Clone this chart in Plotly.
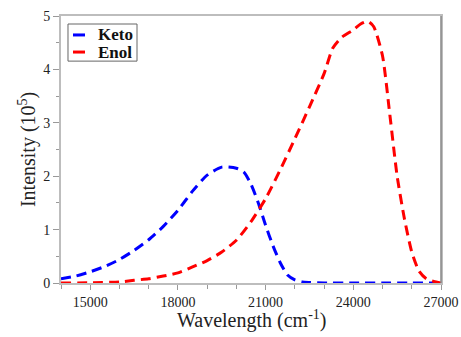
import plotly.graph_objects as go

# Data
keto_x = [14000, 14500, 15000, 15500, 16000, 16500, 17000, 17500, 18000, 18500,
          19000, 19500, 20000, 20250, 20500, 20750, 21000, 21250, 21500, 21750,
          22000, 22250, 22500, 23000, 24000, 25000, 26000, 27000]
keto_y = [0.08, 0.13, 0.21, 0.31, 0.44, 0.61, 0.81, 1.06, 1.36, 1.72,
          2.02, 2.17, 2.15, 2.08, 1.85, 1.50, 1.08, 0.70, 0.38, 0.15,
          0.06, 0.02, 0.01, 0.0, 0.0, 0.0, 0.0, 0.0]

enol_x = [14000, 15000, 16000, 16500, 17000, 17500, 18000, 18500, 19000, 19500,
          20000, 20500, 21000, 21500, 22000, 22500, 23000, 23300, 23600, 24000,
          24250, 24500, 24700, 25000, 25250, 25500, 25750, 26000, 26250, 26500,
          26750, 27000]
enol_y = [0.0, 0.005, 0.02, 0.05, 0.08, 0.13, 0.19, 0.30, 0.42, 0.58,
          0.80, 1.15, 1.58, 2.12, 2.70, 3.30, 3.92, 4.40, 4.60, 4.74,
          4.85, 4.90, 4.80, 4.25, 3.15, 2.00, 1.20, 0.58, 0.22, 0.08,
          0.03, 0.0]

series_names = ["Keto", "Enol"]
x_ticks = [15000, 18000, 21000, 24000, 27000]
y_ticks = [0, 1, 2, 3, 4, 5]

x_title = "Wavelength (cm<sup>-1</sup>)"
y_title = "Intensity (10<sup>5</sup>)"

BLUE = "#0000ff"
RED = "#ff0000"
AXIS = "#bdbdbd"
FONT = "Liberation Serif"
colors = [BLUE, RED]

fig = go.Figure()
for name, xs, ys, c in zip(series_names, [keto_x, enol_x], [keto_y, enol_y], colors):
    fig.add_trace(go.Scatter(x=xs, y=ys, mode="lines", name=name, showlegend=False,
                             line=dict(color=c, width=3, dash="10px,6px",
                                       shape="spline", smoothing=0.6)))

# compact boxed legend like the reference (paper coordinates)
shapes = [
    dict(type="rect", xref="paper", yref="paper", x0=0.0184, x1=0.2, y0=0.831, y1=0.970,
         line=dict(color="#666", width=1), fillcolor="white", layer="above"),
]
annotations = []
for i, (name, c) in enumerate(zip(series_names, colors)):
    yy = 0.929 - i * 0.064
    shapes.append(dict(type="line", xref="paper", yref="paper", x0=0.0316, x1=0.0632,
                       y0=yy, y1=yy, line=dict(color=c, width=3, dash="solid"), layer="above"))
    annotations.append(dict(text="<b>%s</b>" % name, xref="paper", yref="paper",
                            x=0.093, y=yy, xanchor="left", yanchor="middle", showarrow=False,
                            font=dict(size=17, family=FONT, color="#111")))
# darker right frame edge, as in the reference
shapes.append(dict(type="line", xref="paper", yref="paper", x0=1, x1=1, y0=0, y1=1,
                   line=dict(color="#888", width=1.5)))

annotations += [
    dict(text=x_title, xref="paper", yref="paper", x=0.5, y=-0.135,
         xanchor="center", yanchor="middle", showarrow=False,
         font=dict(size=20, family=FONT, color="#222")),
    dict(text=y_title, xref="paper", yref="paper", x=-0.088, y=0.5,
         xanchor="center", yanchor="middle", showarrow=False, textangle=-90,
         font=dict(size=20, family=FONT, color="#222")),
]

fig.update_layout(
    width=461, height=337,
    margin=dict(l=61, r=20, t=16, b=54, autoexpand=False),
    paper_bgcolor="white", plot_bgcolor="white",
    font=dict(family=FONT, color="#222", size=14),
    showlegend=False,
    shapes=shapes,
    annotations=annotations,
)
fig.update_xaxes(
    range=[14000, 27000], tickvals=x_ticks, ticktext=[str(v) for v in x_ticks],
    showgrid=False, zeroline=False, showline=True, linecolor=AXIS, linewidth=2,
    mirror=True, ticks="outside", ticklen=5, tickcolor="#999", tickwidth=1,
    minor=dict(dtick=1000, tick0=14000, ticks="outside", ticklen=4, tickcolor="#999"),
    tickfont=dict(size=14, family=FONT), automargin=False,
)
fig.update_yaxes(
    range=[0, 5], tickvals=y_ticks,
    showgrid=False, zeroline=False, showline=True, linecolor=AXIS, linewidth=2,
    mirror=True, ticks="outside", ticklen=6, tickcolor="#999", tickwidth=1,
    minor=dict(dtick=0.5, ticks="outside", ticklen=3, tickcolor="#999"),
    tickfont=dict(size=14, family=FONT), automargin=False,
)

fig.write_html("out.html", config={"displayModeBar": False},
               post_script="document.body.style.margin='0';document.body.style.overflow='hidden';")
